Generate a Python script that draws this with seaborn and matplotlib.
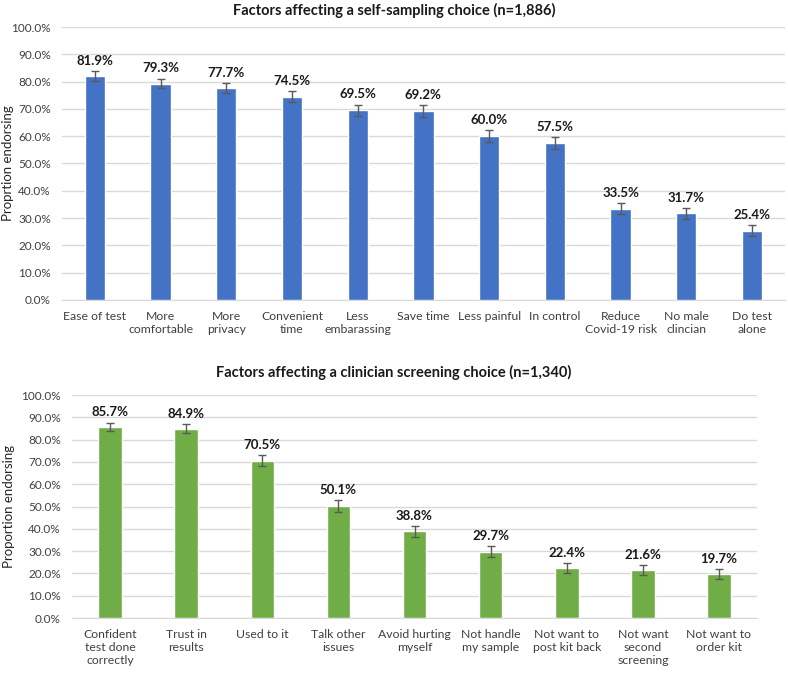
import pandas as pd
import numpy as np
import seaborn as sns
from matplotlib import pyplot as plt
from matplotlib.ticker import FuncFormatter

# self-sampling factors (n=1,886)
self_labels = ['Ease of test', 'More\ncomfortable', 'More\nprivacy', 'Convenient\ntime',
               'Less\nembarassing', 'Save time', 'Less painful', 'In control',
               'Reduce\nCovid-19 risk', 'No male\nclincian', 'Do test\nalone']
self_vals = [81.9, 79.3, 77.7, 74.5, 69.5, 69.2, 60.0, 57.5, 33.5, 31.7, 25.4]
self_err = [1.8, 1.8, 1.9, 2.0, 2.1, 2.1, 2.2, 2.2, 2.1, 2.1, 2.0]

# clinician screening factors (n=1,340)
clin_labels = ['Confident\ntest done\ncorrectly', 'Trust in\nresults', 'Used to it',
               'Talk other\nissues', 'Avoid hurting\nmyself', 'Not handle\nmy sample',
               'Not want to\npost kit back', 'Not want\nsecond\nscreening', 'Not want to\norder kit']
clin_vals = [85.7, 84.9, 70.5, 50.1, 38.8, 29.7, 22.4, 21.6, 19.7]
clin_err = [1.9, 1.9, 2.4, 2.7, 2.6, 2.4, 2.2, 2.2, 2.1]

sns.set_style('white')
plt.rcParams['font.family'] = ['Lato', 'DejaVu Sans']

fig = plt.figure(figsize=(7.88, 6.75), dpi=100)
ax1 = fig.add_axes([0.0787, 0.5556, 0.9173, 0.4044])
ax2 = fig.add_axes([0.0914, 0.0844, 0.8693, 0.3304])


def panel(ax, labels, vals, errs, color, title, ylabel, width, ylab_x, title_x, title_pad):
    df = pd.DataFrame({'factor': labels, 'pct': vals})
    sns.barplot(data=df, x='factor', y='pct', color=color, width=width,
                saturation=1, errorbar=None, ax=ax, zorder=3)
    ax.errorbar(np.arange(len(vals)), vals, yerr=errs, fmt='none',
                ecolor='#595959', elinewidth=1, capsize=3, capthick=1, zorder=4)
    for i, v in enumerate(vals):
        ax.annotate(f'{v:.1f}%', (i, v + errs[i]), xytext=(0, 3), textcoords='offset points',
                    ha='center', va='bottom', fontsize=9.5, fontweight='bold', color='#1a1a1a')
    ax.set_ylim(0, 100)
    ax.set_yticks(np.arange(0, 101, 10))
    ax.yaxis.set_major_formatter(FuncFormatter(lambda y, _: f'{y:.1f}%'))
    ax.grid(axis='y', color='#d9d9d9', linewidth=1, zorder=0)
    ax.set_axisbelow(True)
    for s in ['top', 'right', 'left']:
        ax.spines[s].set_visible(False)
    ax.spines['bottom'].set_color('#d9d9d9')
    ax.tick_params(axis='y', length=0, labelsize=8.5, colors='#404040', pad=8)
    ax.tick_params(axis='x', length=0, labelsize=8.8, colors='#404040', pad=8)
    ax.set_xlabel('')
    ax.set_ylabel(ylabel, fontsize=9.5, color='#262626')
    ax.yaxis.set_label_coords(ylab_x, 0.5)
    ax.set_title(title, fontsize=10.5, fontweight='bold', color='#1a1a1a',
                 pad=title_pad, x=title_x)
    ax.set_xlim(-0.5, len(vals) - 0.5)


panel(ax1, self_labels, self_vals, self_err, '#4472C4',
      'Factors affecting a self-sampling choice (n=1,886)', 'Proprtion endorsing', 0.31,
      -0.066, 0.459, 9)
panel(ax2, clin_labels, clin_vals, clin_err, '#70AD47',
      'Factors affecting a clinician screening choice (n=1,340)', 'Proportion endorsing', 0.31,
      -0.083, 0.47, 13)

fig.savefig('out.png', dpi=100)
